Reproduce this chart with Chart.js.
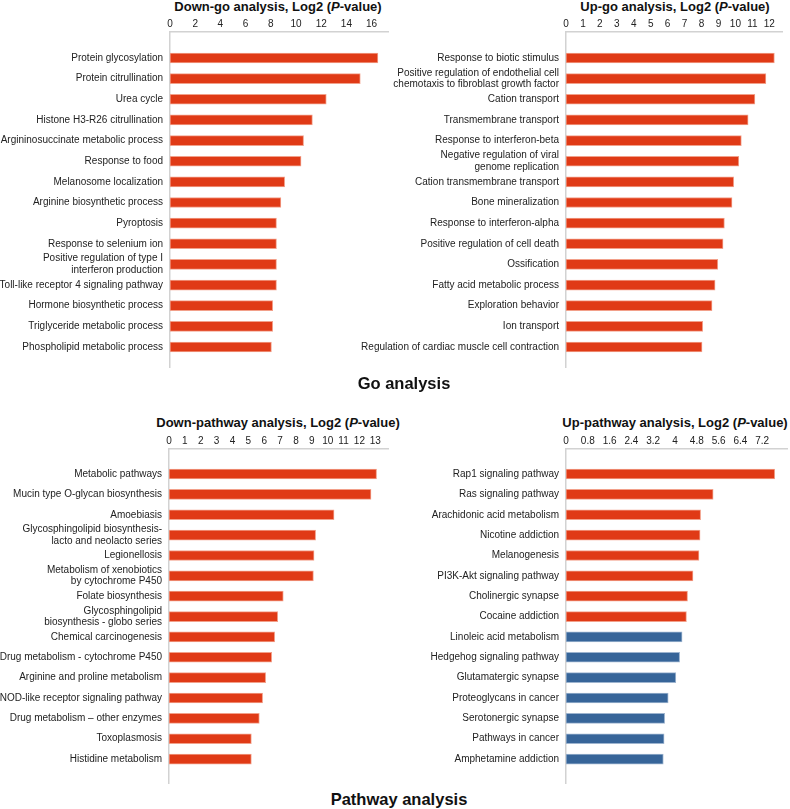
<!DOCTYPE html>
<html>
<head>
<meta charset="utf-8">
<script src="https://cdn.jsdelivr.net/npm/chart.js@4"></script>
<style>
body { margin: 0; background: #fff; font-family: "Liberation Sans", Arial, sans-serif; }
#page { position: relative; width: 790px; height: 809px; overflow: hidden; }
canvas { position: absolute; }
.ttl { position: absolute; font-size: 13px; line-height: 14px; font-weight: bold; color: #111; white-space: nowrap; transform: translateX(-50%); }
.sec { position: absolute; font-size: 16.5px; line-height: 20px; font-weight: bold; color: #111; white-space: nowrap; transform: translateX(-50%); }
</style>
</head>
<body>
<div id="page">
  <div class="ttl" style="left:278px;top:0px">Down-go analysis, Log2 (<i>P</i>-value)</div>
  <div class="ttl" style="left:675px;top:0px">Up-go analysis, Log2 (<i>P</i>-value)</div>
  <canvas id="downGo" style="left:0;top:12px" width="395" height="360"></canvas>
  <canvas id="upGo" style="left:350px;top:12px" width="440" height="360"></canvas>
  <div class="sec" style="left:404px;top:373px">Go analysis</div>

  <div class="ttl" style="left:278px;top:416px">Down-pathway analysis, Log2 (<i>P</i>-value)</div>
  <div class="ttl" style="left:675px;top:416px">Up-pathway analysis, Log2 (<i>P</i>-value)</div>
  <canvas id="downPath" style="left:0;top:429px" width="395" height="360"></canvas>
  <canvas id="upPath" style="left:350px;top:429px" width="440" height="360"></canvas>
  <div class="sec" style="left:399px;top:789px">Pathway analysis</div>
</div>
<script>
const downGoTerms = ['Protein glycosylation', 'Protein citrullination', 'Urea cycle', 'Histone H3-R26 citrullination',
    'Argininosuccinate metabolic process', 'Response to food', 'Melanosome localization', 'Arginine biosynthetic process',
    'Pyroptosis', 'Response to selenium ion', ['Positive regulation of type I', 'interferon production'],
    'Toll-like receptor 4 signaling pathway', 'Hormone biosynthetic process', 'Triglyceride metabolic process',
    'Phospholipid metabolic process'];
const downGoValues = [16.5, 15.1, 12.4, 11.3, 10.6, 10.4, 9.1, 8.8, 8.45, 8.45, 8.45, 8.45, 8.15, 8.15, 8.05];
const downGoTicks = [0, 2, 4, 6, 8, 10, 12, 14, 16];

const upGoTerms = ['Response to biotic stimulus', ['Positive regulation of endothelial cell', 'chemotaxis to fibroblast growth factor'],
    'Cation transport', 'Transmembrane transport', 'Response to interferon-beta',
    ['Negative regulation of viral', 'genome replication'], 'Cation transmembrane transport', 'Bone mineralization',
    'Response to interferon-alpha', 'Positive regulation of cell death', 'Ossification', 'Fatty acid metabolic process',
    'Exploration behavior', 'Ion transport', 'Regulation of cardiac muscle cell contraction'];
const upGoValues = [12.3, 11.8, 11.15, 10.75, 10.35, 10.2, 9.9, 9.8, 9.35, 9.27, 8.96, 8.8, 8.62, 8.07, 8.03];
const upGoTicks = [0, 1, 2, 3, 4, 5, 6, 7, 8, 9, 10, 11, 12];

const downPathTerms = ['Metabolic pathways', 'Mucin type O-glycan biosynthesis', 'Amoebiasis',
    ['Glycosphingolipid biosynthesis-', 'lacto and neolacto series'], 'Legionellosis',
    ['Metabolism of xenobiotics', 'by cytochrome P450'], 'Folate biosynthesis',
    ['Glycosphingolipid', 'biosynthesis - globo series'], 'Chemical carcinogenesis', 'Drug metabolism - cytochrome P450',
    'Arginine and proline metabolism', 'NOD-like receptor signaling pathway', 'Drug metabolism \u2013 other enzymes',
    'Toxoplasmosis', 'Histidine metabolism'];
const downPathValues = [13.08, 12.73, 10.4, 9.24, 9.14, 9.1, 7.2, 6.85, 6.66, 6.47, 6.09, 5.9, 5.69, 5.19, 5.19];
const downPathTicks = [0, 1, 2, 3, 4, 5, 6, 7, 8, 9, 10, 11, 12, 13];

const upPathTerms = ['Rap1 signaling pathway', 'Ras signaling pathway', 'Arachidonic acid metabolism', 'Nicotine addiction',
    'Melanogenesis', 'PI3K-Akt signaling pathway', 'Cholinergic synapse', 'Cocaine addiction', 'Linoleic acid metabolism',
    'Hedgehog signaling pathway', 'Glutamatergic synapse', 'Proteoglycans in cancer', 'Serotonergic synapse',
    'Pathways in cancer', 'Amphetamine addiction'];
const upPathValues = [7.66, 5.4, 4.94, 4.92, 4.88, 4.66, 4.46, 4.42, 4.26, 4.17, 4.03, 3.75, 3.62, 3.6, 3.57];
const upPathTicks = [0, 0.8, 1.6, 2.4, 3.2, 4, 4.8, 5.6, 6.4, 7.2];

const RED = '#E03A16', RED_EDGE = '#F2A08A';
const BLUE = '#376599', BLUE_EDGE = '#9DB4CF';

Chart.defaults.font.family = '"Liberation Sans", Arial, sans-serif';
Chart.defaults.font.size = 10;
Chart.defaults.color = '#222';

// one horizontal bar panel; rows sit on a linear index axis so the top/bottom gaps can be matched
function panel(id, terms, values, ticks, xMax, yMin, yMax, yWidth, pad, colorOf) {
    new Chart(document.getElementById(id), {
        type: 'bar',
        data: {
            datasets: [{
                data: values.map((v, i) => ({ x: v, y: i })),
                backgroundColor: ctx => colorOf(ctx.dataIndex)[0],
                borderColor: ctx => colorOf(ctx.dataIndex)[1],
                borderWidth: 1,
                borderSkipped: false,
                barThickness: 10
            }]
        },
        options: {
            indexAxis: 'y',
            responsive: false,
            animation: false,
            layout: { padding: pad },
            plugins: { legend: { display: false }, tooltip: { enabled: false } },
            scales: {
                x: {
                    type: 'linear', position: 'top', min: 0, max: xMax,
                    grid: { display: false, drawTicks: false },
                    border: { color: '#d2d2d2', width: 1.5 },
                    ticks: { padding: 2, maxRotation: 0, autoSkip: false, color: '#222',
                        callback: v => String(+v.toFixed(1)) },
                    afterBuildTicks: s => { s.ticks = ticks.map(v => ({ value: v })); },
                    afterFit: s => { s.height = 20; s.paddingLeft = 0; s.paddingRight = 0; }
                },
                y: {
                    type: 'linear', reverse: true, min: yMin, max: yMax, offset: false,
                    grid: { display: false, drawTicks: false, offset: false },
                    border: { color: '#d2d2d2', width: 1.5 },
                    ticks: { padding: 7, autoSkip: false, color: '#222', font: { lineHeight: 1.15 },
                        callback: v => terms[v] },
                    afterBuildTicks: s => { s.ticks = terms.map((_, i) => ({ value: i })); },
                    afterFit: s => { s.width = yWidth; s.paddingTop = 0; s.paddingBottom = 0; }
                }
            }
        }
    });
}

const allRed = () => [RED, RED_EDGE];
panel('downGo', downGoTerms, downGoValues, downGoTicks, 17.3, -1.26, 14.97, 170, { right: 7, bottom: 5 }, allRed);
panel('upGo', upGoTerms, upGoValues, upGoTicks, 12.75, -1.26, 14.97, 216, { right: 8, bottom: 5 }, allRed);
panel('downPath', downPathTerms, downPathValues, downPathTicks, 13.8, -1.23, 15.19, 169, { right: 7, bottom: 5.7 }, allRed);
// first eight up-regulated pathways are red, the rest blue
panel('upPath', upPathTerms, upPathValues, upPathTicks, 8.11, -1.23, 15.19, 216, { right: 3, bottom: 5.7 },
    i => i < 8 ? [RED, RED_EDGE] : [BLUE, BLUE_EDGE]);
</script>
</body>
</html>
